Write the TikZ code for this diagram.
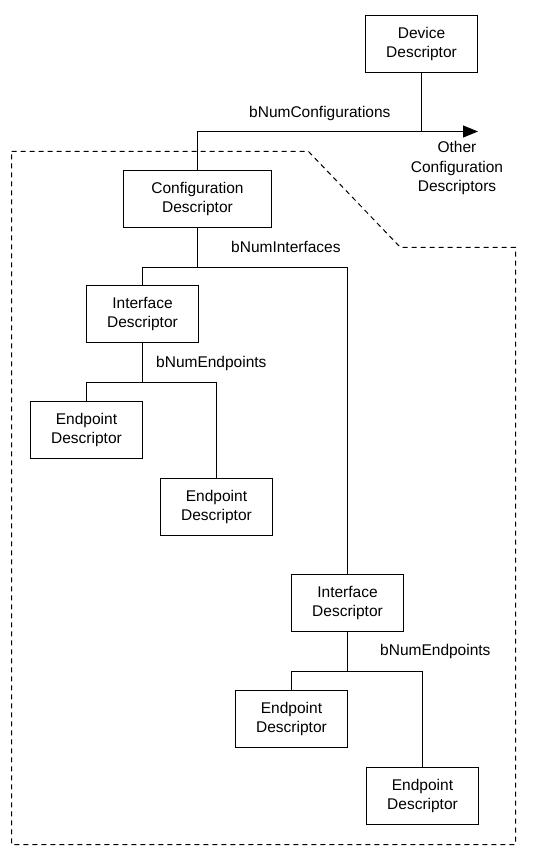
\documentclass[tikz,border=0pt]{standalone}
\usepackage{fontspec}
\setmainfont{Liberation Sans}
\usetikzlibrary{arrows.meta}

\begin{document}
\begin{tikzpicture}[x=1pt, y=-1pt]
						\useasboundingbox (0,0) rectangle (540,858);
						\tikzstyle{every node}=[font=\fontsize{15.5}{19.5}\selectfont, align=center, inner sep=0pt]
						\tikzstyle{desc}=[draw=black, line width=1pt, minimum width=112pt, minimum height=57pt]
						\path (421.5,44) node[desc] (dev) {Device\\Descriptor};
						\path (197.5,199) node[desc, minimum width=148pt] (cfg) {Configuration\\Descriptor};
						\path (142.5,314) node[desc] (if1) {Interface\\Descriptor};
						\path (86.5,430) node[desc] (ep1) {Endpoint\\Descriptor};
						\path (216.5,507) node[desc] (ep2) {Endpoint\\Descriptor};
						\path (347.5,603) node[desc] (if2) {Interface\\Descriptor};
						\path (291.5,719) node[desc] (ep3) {Endpoint\\Descriptor};
						\path (422.5,796) node[desc] (ep4) {Endpoint\\Descriptor};
						\path (457,168) node (other) {Other\\Configuration\\Descriptors};
						\path (249,113) node[anchor=west] (lcfg) {bNumConfigurations};
						\path (231,247) node[anchor=west] (lif) {bNumInterfaces};
						\path (156,363) node[anchor=west] (lep1) {bNumEndpoints};
						\path (380,651) node[anchor=west] (lep2) {bNumEndpoints};
						\coordinate (cbus) at (478,131.5);
						\coordinate (ibus) at (197.5,267.5);
						\coordinate (ebus1) at (142.5,382.5);
						\coordinate (ebus2) at (347.5,671.5);
						\draw[line width=1pt, -{Triangle[length=15pt, width=12pt]}] (cfg.north) |- (cbus);
						\draw[line width=1pt] (dev.south) -- (dev.south |- cbus);
						\draw[line width=1pt] (cfg.south) -- (ibus);
						\draw[line width=1pt] (if1.north) |- (ibus) -| (if2.north);
						\draw[line width=1pt] (if1.south) -- (ebus1);
						\draw[line width=1pt] (ep1.north) |- (ebus1) -| (ep2.north);
						\draw[line width=1pt] (if2.south) -- (ebus2);
						\draw[line width=1pt] (ep3.north) |- (ebus2) -| (ep4.north);
						\draw[line width=1pt, dash pattern=on 5pt off 4pt] (11.5,151.5) -- (308.5,151.5) -- (400.5,247.5) -- (515.5,247.5) -- (515.5,844.5) -- (11.5,844.5) -- cycle;
			\end{tikzpicture}
\end{document}
